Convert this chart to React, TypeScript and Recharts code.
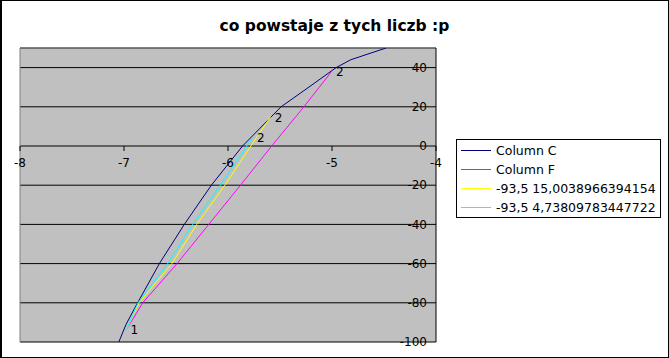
import React from "react";
import {
  LineChart,
  Line,
  XAxis,
  YAxis,
  CartesianGrid,
  ReferenceLine,
  ReferenceDot,
  LabelList,
} from "recharts";

type Pt = { x: number; y: number; tag?: string };

const FONT = "DejaVu Sans";

// values
const columnC: Pt[] = [
  { x: -7.05, y: -100 },
  { x: -6.98, y: -91 },
  { x: -6.9, y: -83 },
  { x: -6.66, y: -60 },
  { x: -6.42, y: -40 },
  { x: -6.16, y: -20 },
  { x: -5.86, y: 0 },
  { x: -5.49, y: 20 },
  { x: -5.25, y: 29 },
  { x: -4.96, y: 40 },
  { x: -4.82, y: 44 },
  { x: -4.48, y: 50 },
];

const columnF: Pt[] = [
  { x: -6.975, y: -93.5 },
  { x: -6.82, y: -80 },
  { x: -6.49, y: -60 },
  { x: -6.185, y: -40 },
  { x: -5.88, y: -20 },
  { x: -5.58, y: 0 },
  { x: -5.27, y: 20 },
  { x: -5.0, y: 38.3 },
];

const yellowRun: Pt[] = [
  { x: -6.975, y: -93.5 },
  { x: -6.855, y: -80 },
  { x: -6.54, y: -60 },
  { x: -6.3, y: -40 },
  { x: -6.03, y: -20 },
  { x: -5.78, y: 0 },
  { x: -5.59, y: 15.0039 },
];

const cyanRun: Pt[] = [
  { x: -6.975, y: -93.5 },
  { x: -6.865, y: -80 },
  { x: -6.58, y: -60 },
  { x: -6.34, y: -40 },
  { x: -6.074, y: -20 },
  { x: -5.82, y: 0 },
  { x: -5.76, y: 4.738 },
];

const xTicks = [-8, -7, -6, -5, -4];
const yTicks = [-100, -80, -60, -40, -20, 0, 20, 40];

// the three runs share their first point, so "1" is only written once
const withTags = (pts: Pt[], first: boolean): Pt[] =>
  pts.map((p, i) => ({
    ...p,
    tag: i === 0 && first ? "1" : i === pts.length - 1 ? "2" : undefined,
  }));

const SERIES = [
  { name: "Column C", color: "#000080", data: columnC },
  { name: "Column F", color: "#ff00ff", data: withTags(columnF, true) },
  { name: "-93,5 15,0038966394154", color: "#ffff00", data: withTags(yellowRun, false) },
  { name: "-93,5 4,73809783447722", color: "#00ffff", data: withTags(cyanRun, false) },
];

const TagLabel = (props: any) => {
  const { x, y, value } = props;
  if (!value) return null;
  return (
    <text x={x + 4} y={y + 1} dominantBaseline="central" fontSize={12} fontFamily={FONT} fill="#000">
      {value}
    </text>
  );
};

const XTick = ({ cx, cy, value }: { cx: number; cy: number; value: number }) => (
  <g>
    <line x1={cx} y1={cy} x2={cx} y2={cy + 5} stroke="#000" />
    <text x={cx} y={cy + 21} textAnchor="middle" fontSize={12} fontFamily={FONT} fill="#000">
      {value}
    </text>
  </g>
);

function Legend() {
  return (
    <div
      style={{
        position: "absolute",
        left: 456,
        top: 139,
        width: 205,
        height: 79,
        boxSizing: "border-box",
        border: "1px solid #000",
        background: "#fff",
        paddingTop: 1,
        fontFamily: FONT,
        fontSize: 12.5,
      }}
    >
      {SERIES.map((s) => (
        <div key={s.name} style={{ display: "flex", alignItems: "center", height: 19 }}>
          <div style={{ width: 30, height: 1, background: s.color, marginLeft: 4, marginRight: 5 }} />
          <span style={{ whiteSpace: "nowrap" }}>{s.name}</span>
        </div>
      ))}
    </div>
  );
}

export default function App() {
  return (
    <div style={{ position: "absolute", left: 0, top: 0, width: 669, height: 358, background: "#fff" }}>
      <div
        style={{
          position: "absolute",
          top: 17,
          width: 669,
          textAlign: "center",
          fontFamily: FONT,
          fontWeight: "bold",
          fontSize: 15.5,
          lineHeight: "18px",
        }}
      >
        co powstaje z tych liczb :p
      </div>
      <div style={{ position: "absolute", left: 0, top: 0 }}>
        <LineChart width={669} height={358} margin={{ top: 48, right: 233, bottom: 16, left: 20 }}>
          <CartesianGrid vertical={false} stroke="#000" fill="#c0c0c0" fillOpacity={1} />
          <XAxis type="number" dataKey="x" domain={[-8, -4]} allowDataOverflow hide />
          <YAxis
            type="number"
            orientation="right"
            mirror
            domain={[-100, 50]}
            ticks={yTicks}
            interval={0}
            allowDataOverflow
            axisLine={{ stroke: "#000" }}
            tickLine={false}
            tickSize={6}
            tickMargin={3}
            tick={{ fill: "#000", fontSize: 12, fontFamily: FONT }}
          />
          <ReferenceLine x={-8} stroke="#808080" />
          <ReferenceLine y={50} stroke="#808080" />
          {SERIES.map((s) => (
            <Line
              key={s.name}
              data={s.data}
              dataKey="y"
              name={s.name}
              type="linear"
              stroke={s.color}
              strokeWidth={1}
              dot={false}
              isAnimationActive={false}
            >
              <LabelList dataKey="tag" content={TagLabel} />
            </Line>
          ))}
          {xTicks.map((t) => (
            <ReferenceDot
              key={t}
              x={t}
              y={0}
              r={0}
              shape={(p: any) => <XTick cx={p.cx} cy={p.cy} value={t} />}
            />
          ))}
        </LineChart>
      </div>
      <Legend />
      <div
        style={{
          position: "absolute",
          left: 0,
          top: 0,
          width: 669,
          height: 358,
          boxSizing: "border-box",
          borderStyle: "solid",
          borderColor: "#000",
          borderWidth: "1px 1px 1px 2px",
          pointerEvents: "none",
        }}
      />
    </div>
  );
}
